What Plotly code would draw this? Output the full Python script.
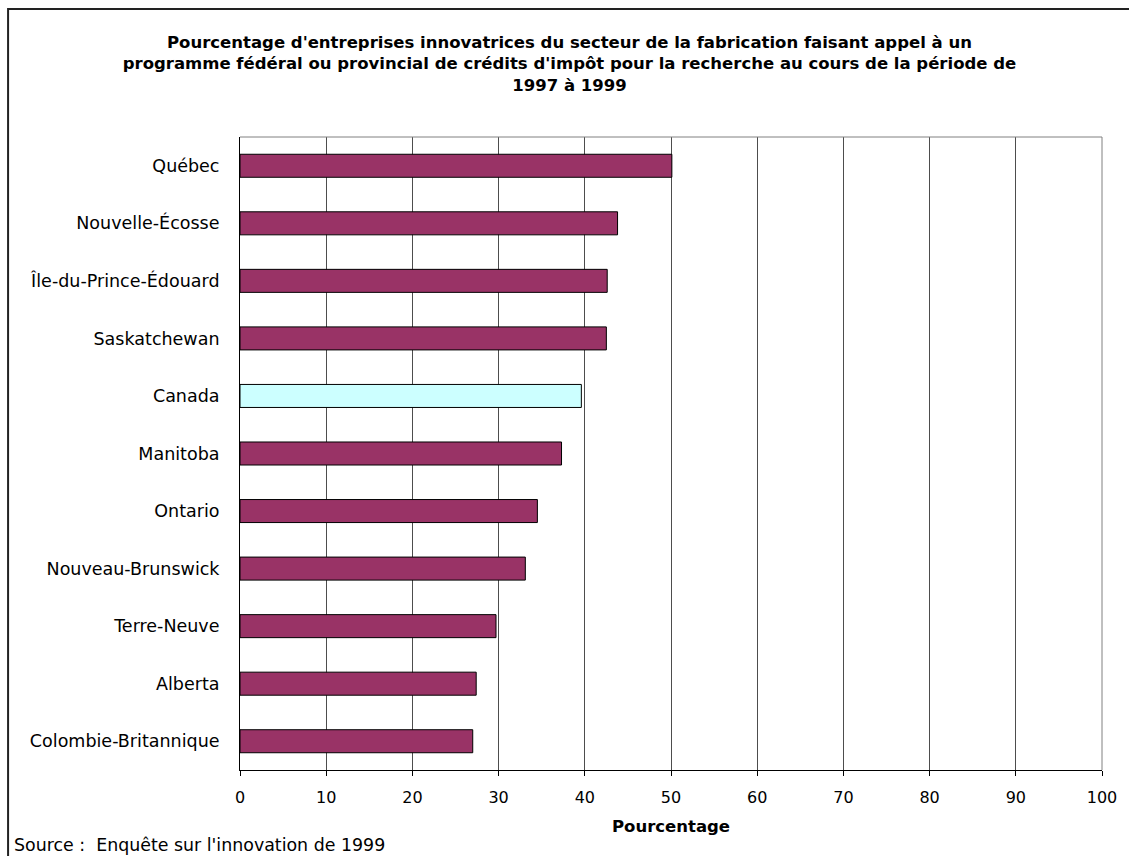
import plotly.graph_objects as go

# Provinces, listed top to bottom
provinces = [
    "Québec",
    "Nouvelle-Écosse",
    "Île-du-Prince-Édouard",
    "Saskatchewan",
    "Canada",
    "Manitoba",
    "Ontario",
    "Nouveau-Brunswick",
    "Terre-Neuve",
    "Alberta",
    "Colombie-Britannique",
]
pourcentages = [50.1, 43.8, 42.6, 42.5, 39.6, 37.3, 34.5, 33.1, 29.7, 27.4, 27.0]
x_ticks = [0, 10, 20, 30, 40, 50, 60, 70, 80, 90, 100]

bar_colors = ["#CCFFFF" if p == "Canada" else "#993366" for p in provinces]

FONT = "DejaVu Sans, Liberation Sans, Arial, sans-serif"

fig = go.Figure(
    go.Bar(
        x=pourcentages,
        y=provinces,
        orientation="h",
        marker=dict(color=bar_colors, line=dict(color="#000000", width=1)),
        width=0.4,
    )
)

W, H = 1129, 856
L, R, T, B = 240, 23, 137, 86
pw, ph = W - L - R, H - T - B


def px_x(x):
    return (x - L) / pw


def px_y(y):
    return (H - B - y) / ph


fig.update_layout(
    width=W,
    height=H,
    margin=dict(l=L, r=R, t=T, b=B),
    paper_bgcolor="white",
    plot_bgcolor="white",
    showlegend=False,
    font=dict(family=FONT, color="#000000"),
    title=dict(
        text=(
            "<b>Pourcentage d'entreprises innovatrices du secteur de la fabrication faisant appel à un<br>"
            "programme fédéral ou provincial de crédits d'impôt pour la recherche au cours de la période de<br>"
            "1997 à 1999</b>"
        ),
        x=px_x(571),
        xref="paper",
        xanchor="center",
        y=1 - 48 / H,
        yanchor="top",
        font=dict(size=16.5, family=FONT),
    ),
    xaxis=dict(
        range=[0, 100],
        tickvals=x_ticks,
        ticktext=[str(v) for v in x_ticks],
        showgrid=True,
        gridcolor="#4d4d4d",
        gridwidth=1,
        showline=True,
        linecolor="#000000",
        linewidth=1,
        ticks="outside",
        ticklen=5,
        tickcolor="#000000",
        ticklabelstandoff=8,
        tickfont=dict(size=16),
        title=dict(text="<b>Pourcentage</b>", font=dict(size=16.5), standoff=14),
        zeroline=False,
        mirror=False,
    ),
    yaxis=dict(
        categoryorder="array",
        categoryarray=provinces,
        autorange="reversed",
        showgrid=False,
        showline=True,
        linecolor="#000000",
        linewidth=1,
        ticks="",
        ticklabelstandoff=16,
        tickfont=dict(size=17.5),
        zeroline=False,
    ),
    shapes=[
        # plot area frame (top and right edges)
        dict(type="line", xref="paper", yref="paper", x0=0, x1=1, y0=1, y1=1,
             line=dict(color="#808080", width=1)),
        dict(type="line", xref="paper", yref="paper", x0=1, x1=1, y0=0, y1=1,
             line=dict(color="#808080", width=1)),
        # outer chart border
        dict(type="rect", xref="paper", yref="paper",
             x0=px_x(7), x1=px_x(1140), y0=px_y(870), y1=px_y(9),
             line=dict(color="#222222", width=2), fillcolor="rgba(0,0,0,0)", layer="above"),
    ],
    annotations=[
        dict(
            text="Source :  Enquête sur l'innovation de 1999",
            xref="paper", yref="paper",
            x=px_x(11), y=px_y(845),
            xanchor="left", yanchor="middle",
            showarrow=False,
            font=dict(size=17.4),
        )
    ],
)

fig.write_html("out.html")
